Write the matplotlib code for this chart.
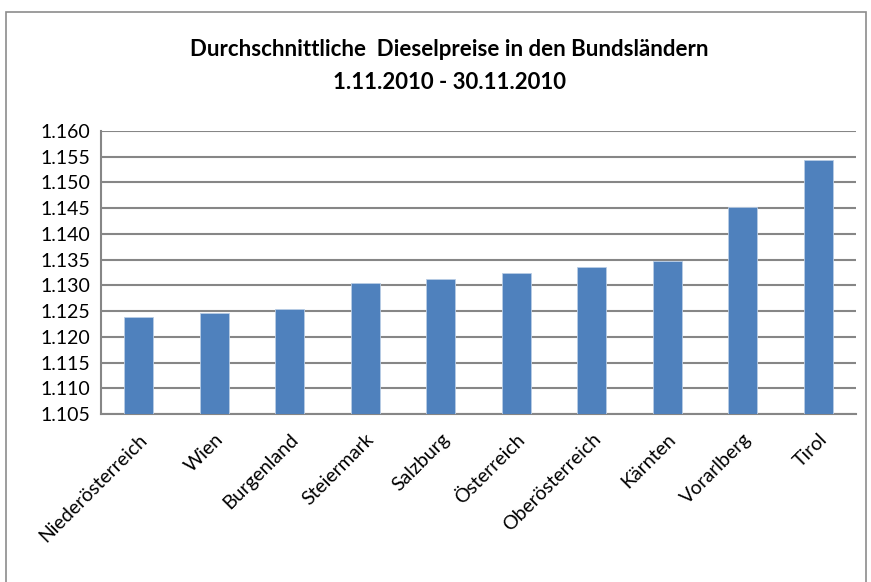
import matplotlib

matplotlib.use("Agg")
import matplotlib.pyplot as plt
from matplotlib.patches import Rectangle

FONT = ["Lato", "DejaVu Sans"]
plt.rcParams["font.family"] = FONT

TITLE = "Durchschnittliche  Dieselpreise in den Bundsländern\n1.11.2010 - 30.11.2010"
regions = [
    "Niederösterreich", "Wien", "Burgenland", "Steiermark", "Salzburg",
    "Österreich", "Oberösterreich", "Kärnten", "Vorarlberg", "Tirol",
]
prices = [1.1238, 1.1247, 1.1254, 1.1305, 1.1313, 1.1324, 1.1336, 1.1348, 1.1453, 1.1543]
y_ticks = [1.105 + 0.005 * i for i in range(12)]

BAR_COLOR = "#4F81BD"
GRID_COLOR = "#868686"

fig = plt.figure(figsize=(8.71, 5.82), dpi=100)
fig.patches.append(Rectangle((6 / 871, -0.1), 860 / 871, 1.1 - 12 / 582,
                             transform=fig.transFigure, fill=False,
                             edgecolor="#8c8c8c", linewidth=1.2))

ax = fig.add_axes([101 / 871, 1 - 414 / 582, 755 / 871, 283 / 582])
x = list(range(len(regions)))
ax.bar(x, prices, width=0.38, color=BAR_COLOR, edgecolor="#b9cde5", linewidth=0.6, zorder=3)
ax.set_xlim(-0.5, len(regions) - 0.5)
ax.set_ylim(1.105, 1.160)
ax.set_yticks(y_ticks)
ax.set_yticklabels([f"{v:.3f}" for v in y_ticks], fontsize=14)
ax.set_xticks(x)
ax.set_xticklabels(regions, rotation=45, ha="right", rotation_mode="anchor", fontsize=14)
ax.tick_params(axis="both", length=0, pad=8)
ax.tick_params(axis="x", pad=12)
ax.grid(axis="y", color=GRID_COLOR, linewidth=1.5, zorder=0)
for side in ("top", "right"):
    ax.spines[side].set_visible(False)
for side in ("left", "bottom"):
    ax.spines[side].set_color(GRID_COLOR)
    ax.spines[side].set_linewidth(1.5)

fig.text(449 / 871, 1 - 66 / 582, TITLE, ha="center", va="center",
         fontsize=16, fontweight="bold", linespacing=1.7)

fig.savefig("out.png", dpi=100)
